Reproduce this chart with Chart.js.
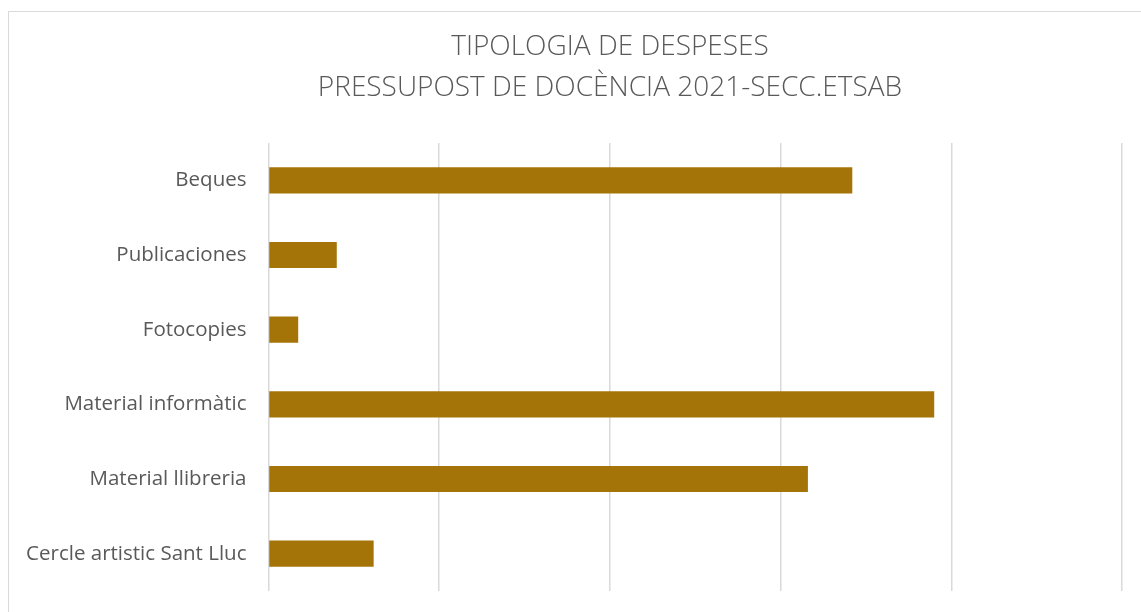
<!DOCTYPE html>
<html>
<head>
<meta charset="utf-8">
<script src="https://cdn.jsdelivr.net/npm/chart.js@4"></script>
<style>
  html, body { margin: 0; padding: 0; background: #fff; overflow: hidden; }
  #wrap { position: relative; width: 1141px; height: 612px; overflow: hidden; }
  #frame { position: absolute; left: 8px; top: 11px; width: 2000px; height: 2000px; border: 1.5px solid #d9d9d9; }
  #chart { position: absolute; left: 0; top: 0; }
</style>
</head>
<body>
<div id="wrap">
  <div id="frame"></div>
  <canvas id="chart" width="1220" height="612"></canvas>
</div>
<script>
const titol = ["TIPOLOGIA DE DESPESES", "PRESSUPOST DE DOCÈNCIA 2021-SECC.ETSAB"];
const categories = ["Beques", "Publicaciones", "Fotocopies", "Material informàtic", "Material llibreria", "Cercle artistic Sant Lluc"];
const imports = [17100, 2000, 870, 19500, 15800, 3080];
const eixMax = 25000;
const eixPas = 5000;

const gris = "#595959";

const ctx = document.getElementById("chart").getContext("2d");
new Chart(ctx, {
    type: "bar",
    data: {
        labels: categories,
        datasets: [{
            data: imports,
            backgroundColor: "#a57408",
            barPercentage: 0.35,
            categoryPercentage: 1
        }]
    },
    options: {
        indexAxis: "y",
        responsive: false,
        animation: false,
        layout: { padding: { left: 0, right: 0, bottom: 21 } },
        plugins: {
            legend: { display: false },
            tooltip: { enabled: false },
            title: {
                display: true,
                text: titol,
                color: gris,
                font: { family: "'Open Sans', sans-serif", size: 28, weight: 300, lineHeight: 1.464 },
                padding: { top: 26.5, bottom: 34.5 }
            }
        },
        scales: {
            x: {
                min: 0,
                max: eixMax,
                afterFit: s => { s.height = 0; },
                ticks: { display: false, stepSize: eixPas },
                grid: { color: "#d9d9d9", lineWidth: 1.5, drawTicks: false },
                border: { display: false }
            },
            y: {
                afterFit: s => { s.width = 268.5; },
                // la separació es fa amb tickLength: el padding de les etiquetes també afegeix marge vertical
                ticks: {
                    color: gris,
                    padding: 0,
                    font: { family: "'Open Sans', sans-serif", size: 20.5 }
                },
                grid: { display: false, drawTicks: true, tickLength: 22 },
                border: { display: false }
            },
            // marge dret: la gràfica original és més ampla que la finestra
            marge: {
                type: "linear",
                position: "right",
                afterFit: s => { s.width = 98; },
                ticks: { display: false },
                grid: { display: false, drawTicks: false },
                border: { display: false }
            }
        }
    }
});
</script>
</body>
</html>
